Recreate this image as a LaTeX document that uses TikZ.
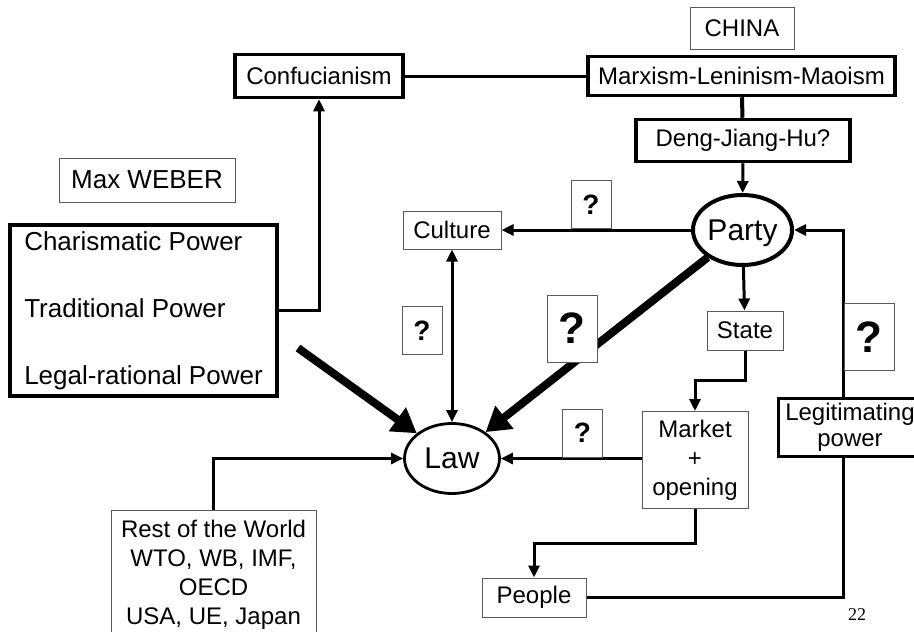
\documentclass[tikz,border=0pt]{standalone}
\usepackage{fontspec}
\setmainfont{Liberation Sans}
\newfontfamily\pagefont{Liberation Serif}
\usetikzlibrary{arrows.meta,shapes.geometric}

\begin{document}
\begin{tikzpicture}[x=1pt,y=-1pt,
    thinbox/.style={draw=black!65,line width=1pt,fill=white,inner sep=0pt,align=center,
      font=\fontsize{24}{29}\selectfont},
    thickbox/.style={draw,line width=3.5pt,fill=white,inner sep=0pt,align=center,
      font=\fontsize{24}{29}\selectfont},
    oval/.style={draw,ellipse,inner sep=0pt,fill=white,text depth=0pt,font=\fontsize{30}{36}\selectfont},
    qsmall/.style={thinbox,minimum width=40pt,minimum height=48pt,font=\fontsize{28}{30}\selectfont\bfseries},
    qbig/.style={thinbox,minimum width=50pt,minimum height=67pt,font=\fontsize{44}{50}\selectfont\bfseries},
    link/.style={line width=3pt},
    arr/.style={link,-{Triangle[length=12pt,width=11pt]}},
    fat/.style={line width=8pt,-{Triangle[length=24pt,width=28pt]}},
  ]
    \useasboundingbox (0,0) rectangle (914,632);
    \clip (0,0) rectangle (914,632);

    \node[thinbox,minimum width=104pt,minimum height=42pt] (china) at (742,28) {CHINA};
    \node[thickbox,minimum width=168pt,minimum height=43pt] (confu) at (319,76) {Confucianism};
    \node[thickbox,minimum width=307pt,minimum height=39pt] (marx) at (741.5,76) {Marxism-Leninism-Maoism};
    \node[thickbox,minimum width=214pt,minimum height=42pt] (deng) at (743,140.5) {Deng-Jiang-Hu?};

    \node[thinbox,minimum width=176pt,minimum height=44pt,font=\fontsize{26}{30}\selectfont] (weber) at (147,180) {Max WEBER};
    \node[thickbox,minimum width=267pt,minimum height=171pt,align=left,font=\fontsize{26}{67}\selectfont] (powers) at (143.5,310.5)
      {Charismatic Power\\Traditional Power\\Legal-rational Power};

    \node[thinbox,minimum width=98pt,minimum height=38pt] (culture) at (452,230) {Culture};
    \node[oval,line width=4pt,minimum width=95pt,minimum height=70pt] (party) at (742.5,230) {Party};
    \node[thinbox,minimum width=76pt,minimum height=39pt] (state) at (745,330.5) {State};
    \node[oval,line width=2.8pt,minimum width=95pt,minimum height=70pt] (law) at (452,458.5) {Law};
    \node[thinbox,minimum width=106pt,minimum height=97pt] (market) at (695,460) {Market\\+\\opening};
    \node[thickbox,minimum width=143pt,minimum height=58pt,font=\fontsize{24}{26}\selectfont] (legit) at (850,427.5) {Legitimating\\power};
    \node[thinbox,minimum width=205pt,minimum height=130pt] (restw) at (213.5,575)
      {Rest of the World\\WTO, WB, IMF,\\OECD\\USA, UE, Japan};
    \node[thinbox,minimum width=104pt,minimum height=39pt] (people) at (534,597.5) {People};
    \node[font=\pagefont\fontsize{18}{20}\selectfont] (pagenum) at (857,615) {22};

    \draw[arr] (powers.east) -| (confu.south);
    \draw[link] (confu) -- (marx);
    \draw[line width=4pt] (marx) -- (deng);
    \draw[arr] (deng) -- (party);
    \draw[arr] (party) -- (culture);
    \draw[link,{Triangle[length=12pt,width=11pt]}-{Triangle[length=12pt,width=11pt]}] (culture) -- (law);
    \draw[arr] (party) -- (state);
    \draw[fat] (party) -- (law);
    \coordinate (wtail) at (298,348);
    \draw[fat] (wtail) -- (law);
    \draw[arr] (state.south) -- ++(0,30) -| (market.north);
    \draw[arr] (market.west |- law) -- (law);
    \draw[arr] (restw.north) |- (law.west);
    \draw[arr] (market.south) -- ++(0,34) -| (people.north);
    \coordinate (lx) at (843,0);
    \draw[link] (people.east) -| (legit.south -| lx);
    \draw[arr] (legit.north -| lx) |- (party.east);

    \node[qsmall] (q1) at (591,204.5) {?};
    \node[qsmall] (q2) at (422,330.5) {?};
    \node[qbig] (q3) at (572,328.5) {?};
    \node[qbig] (q4) at (869,337) {?};
    \node[qsmall] (q5) at (582.5,433) {?};
\end{tikzpicture}
\end{document}
